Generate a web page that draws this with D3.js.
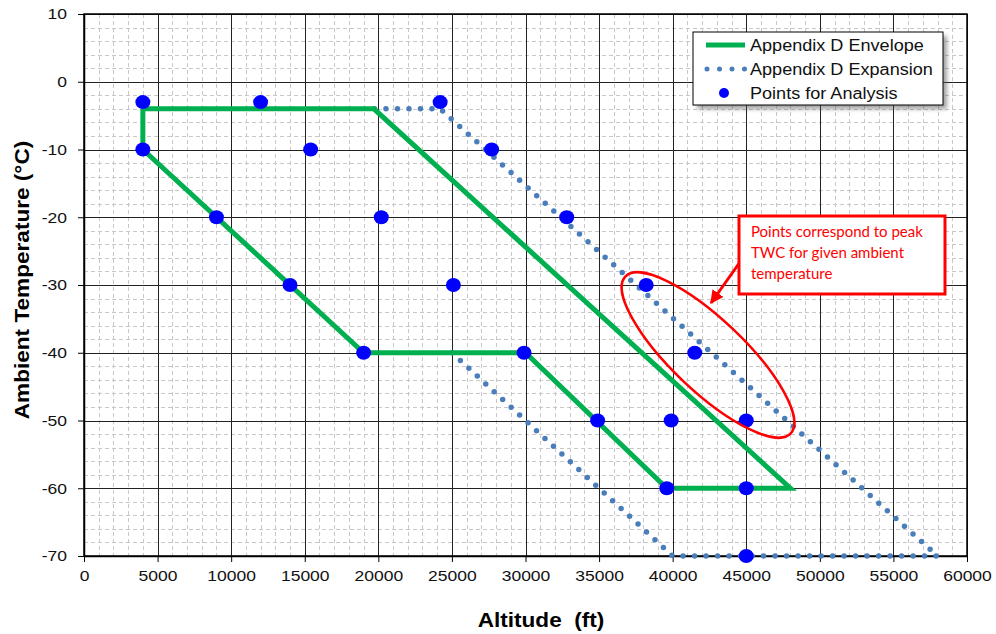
<!DOCTYPE html>
<html>
<head>
<meta charset="utf-8">
<script src="https://cdn.jsdelivr.net/npm/d3@7"></script>
<style>
  body { margin: 0; background: #fff; }
  svg { display: block; font-family: "Liberation Sans", Arial, sans-serif; }
</style>
</head>
<body>
<svg id="chart" width="996" height="634"></svg>
<script>
// envelope outline (altitude ft, temp C)
const envelopeAlt = [4000, 19700, 48000, 39600, 30000, 19000, 4000, 4000];
const envelopeTemp = [-4, -4, -60, -60, -40, -40, -10, -4];

// expansion outline (dotted)
const expansionAlt = [25000, 40000, 58000, 24200, 19700];
const expansionTemp = [-40, -70, -70, -4, -4];

// points for analysis
const pointAlt = [4000, 12000, 24200, 4000, 15400, 27700, 9000, 20200, 32800,
  14000, 25100, 38200, 19000, 29900, 41500, 34900, 39900, 45000, 39600, 45000, 45000];
const pointTemp = [-3, -3, -3, -10, -10, -10, -20, -20, -20,
  -30, -30, -30, -40, -40, -40, -50, -50, -50, -60, -60, -70];

const xTicks = d3.range(0, 60001, 5000);
const yTicks = d3.range(-70, 11, 10);
const legendLabels = ["Appendix D Envelope", "Appendix D Expansion", "Points for Analysis"];
const noteLines = ["Points correspond to peak", "TWC for given ambient", "temperature"];

const svg = d3.select("#chart");
const x = d3.scaleLinear().domain([0, 60000]).range([84, 967]);
const y = d3.scaleLinear().domain([-70, 10]).range([556, 14]);

// the original text is a bit wide, stretch it horizontally
const stretch = 1.13;

// minor grid
const grid = svg.append("g");
grid.selectAll(".mx")
  .data(d3.range(0, 60001, 1000).filter(d => d % 5000 !== 0))
  .join("line")
  .attr("x1", d => Math.round(x(d)) + 0.5).attr("x2", d => Math.round(x(d)) + 0.5)
  .attr("y1", y(10)).attr("y2", y(-70))
  .style("stroke", "#c8c8c8").style("stroke-dasharray", "4,3");
grid.selectAll(".my")
  .data(d3.range(-70, 11, 2).filter(d => d % 10 !== 0))
  .join("line")
  .attr("y1", d => Math.round(y(d)) + 0.5).attr("y2", d => Math.round(y(d)) + 0.5)
  .attr("x1", x(0)).attr("x2", x(60000))
  .style("stroke", "#c8c8c8").style("stroke-dasharray", "4,3");

// major grid
grid.selectAll(".Mx").data(xTicks).join("line")
  .attr("x1", d => Math.round(x(d)) + 0.5).attr("x2", d => Math.round(x(d)) + 0.5)
  .attr("y1", y(10)).attr("y2", y(-70))
  .style("stroke", "#222").style("stroke-width", 1);
grid.selectAll(".My").data(yTicks).join("line")
  .attr("y1", d => Math.round(y(d)) + 0.5).attr("y2", d => Math.round(y(d)) + 0.5)
  .attr("x1", x(0)).attr("x2", x(60000))
  .style("stroke", "#222").style("stroke-width", 1);

// axes
const xAxis = svg.append("g").attr("transform", `translate(0,${y(-70)})`)
  .call(d3.axisBottom(x).tickValues(xTicks).tickFormat(d => String(d))
    .tickSize(6).tickPadding(8).tickSizeOuter(0));
const yAxis = svg.append("g").attr("transform", `translate(${x(0)},0)`)
  .call(d3.axisLeft(y).tickValues(yTicks).tickFormat(d => String(d))
    .tickSize(6).tickPadding(9).tickSizeOuter(0));
[xAxis, yAxis].forEach(a => {
  a.select(".domain").style("stroke", "#000").style("stroke-width", 1.5);
  a.selectAll(".tick line").style("stroke", "#000");
  a.selectAll("text").style("font-size", "15.5px").style("fill", "#111")
    .style("font-family", "Liberation Sans, Arial, sans-serif")
    .attr("transform", `scale(${stretch},1)`);
});

// plot border
svg.append("rect")
  .attr("x", x(0)).attr("y", y(10))
  .attr("width", x(60000) - x(0)).attr("height", y(-70) - y(10))
  .style("fill", "none").style("stroke", "#000").style("stroke-width", 1.5);

const line = d3.line().x(d => x(d[0])).y(d => y(d[1]));

// expansion dotted
svg.append("path")
  .attr("d", line(d3.zip(expansionAlt, expansionTemp)))
  .style("fill", "none").style("stroke", "#4a7ebb").style("stroke-width", 5.5)
  .style("stroke-linecap", "round").style("stroke-dasharray", "0,11.5");

// envelope
svg.append("path")
  .attr("d", line(d3.zip(envelopeAlt, envelopeTemp)))
  .style("fill", "none").style("stroke", "#00b050").style("stroke-width", 5)
  .style("stroke-linejoin", "miter");

// points
svg.selectAll(".pt").data(d3.zip(pointAlt, pointTemp)).join("ellipse")
  .attr("cx", d => x(d[0])).attr("cy", d => y(d[1]))
  .attr("rx", 7.5).attr("ry", 7)
  .style("fill", "#0000ff");

// axis titles
svg.append("text")
  .attr("transform", `translate(29,280) rotate(-90) scale(${stretch},1)`)
  .attr("text-anchor", "middle")
  .style("font-size", "20px").style("font-weight", "bold")
  .text("Ambient Temperature (°C)");
svg.append("text")
  .attr("transform", `translate(541,627) scale(${stretch},1)`)
  .attr("text-anchor", "middle")
  .style("font-size", "20px").style("font-weight", "bold")
  .style("white-space", "pre").attr("xml:space", "preserve")
  .text("Altitude  (ft)");

// legend
const lg = svg.append("g");
lg.append("rect").attr("x", 697).attr("y", 36).attr("width", 250).attr("height", 73)
  .style("fill", "#555").style("opacity", 0.55).style("filter", "blur(2px)");
lg.append("rect").attr("x", 693).attr("y", 32).attr("width", 250).attr("height", 73)
  .style("fill", "#fff").style("stroke", "#000").style("stroke-width", 1);
lg.append("line").attr("x1", 706).attr("x2", 745).attr("y1", 45).attr("y2", 45)
  .style("stroke", "#00b050").style("stroke-width", 5);
lg.append("line").attr("x1", 707).attr("x2", 745).attr("y1", 69).attr("y2", 69)
  .style("stroke", "#4a7ebb").style("stroke-width", 5)
  .style("stroke-linecap", "round").style("stroke-dasharray", "0,12.5");
lg.append("ellipse").attr("cx", 724).attr("cy", 93).attr("rx", 5).attr("ry", 5)
  .style("fill", "#0000ff");
lg.selectAll(".lt").data(legendLabels).join("text")
  .attr("transform", (d, i) => `translate(750,${51 + i * 24}) scale(${stretch},1)`)
  .style("font-size", "16px").style("fill", "#111")
  .text(d => d);

// annotation ellipse
svg.append("ellipse")
  .attr("transform", "translate(708,355) rotate(43.5)")
  .attr("rx", 114).attr("ry", 36)
  .style("fill", "none").style("stroke", "#ff0000").style("stroke-width", 2.5);

// arrow
svg.append("defs").append("marker")
  .attr("id", "ah").attr("viewBox", "0 0 10 10").attr("refX", 9).attr("refY", 5)
  .attr("markerWidth", 4.5).attr("markerHeight", 4.5).attr("orient", "auto")
  .append("path").attr("d", "M0,0 L10,5 L0,10 Z").style("fill", "#ff0000");
svg.append("line")
  .attr("x1", 740).attr("y1", 262).attr("x2", 711).attr("y2", 303)
  .style("stroke", "#ff0000").style("stroke-width", 3)
  .attr("marker-end", "url(#ah)");

// note box
svg.append("rect").attr("x", 739).attr("y", 216).attr("width", 206).attr("height", 78)
  .style("fill", "#fff").style("stroke", "#ff0000").style("stroke-width", 3);
svg.selectAll(".nt").data(noteLines).join("text")
  .attr("x", 751).attr("y", (d, i) => 237 + i * 21)
  .style("font-family", "Lato, 'Open Sans', sans-serif")
  .style("font-size", "15px").style("fill", "#ff0000")
  .text(d => d);
</script>
</body>
</html>
